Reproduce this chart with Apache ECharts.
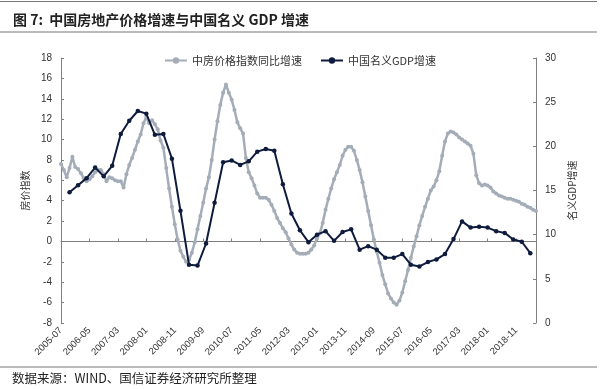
<!DOCTYPE html>
<html>
<head>
<meta charset="utf-8">
<script src="https://cdn.jsdelivr.net/npm/echarts@6/dist/echarts.min.js"></script>
<style>
html,body{margin:0;padding:0;background:#fff;}
#chart{width:600px;height:389px;}
</style>
</head>
<body>
<div id="chart"></div>
<script>
// Monthly categories 2005-07 .. 2019-06
var startYear = 2005, startMonth = 7, monthCount = 168;
var months = [];
for (var n = 0; n < monthCount; n++) {
  var m = startMonth - 1 + n;
  var y = startYear + Math.floor(m / 12);
  var mm = (m % 12) + 1;
  months.push(y + '-' + (mm < 10 ? '0' + mm : mm));
}

// 中房价格指数同比增速 (monthly, left axis, %)
var housePrice = [
  7.6, 7.0, 6.3, 7.2, 8.3, 7.3, 7.1, 6.7, 6.2, 5.9,
  6.1, 6.4, 6.8, 7.0, 7.0, 6.6, 5.9, 6.3, 6.2, 6.0,
  5.9, 5.9, 5.3, 6.6, 7.5, 8.2, 9.0, 9.8, 10.5, 11.6,
  12.2, 11.6, 11.9, 11.5, 11.0, 9.9, 9.2, 7.2, 5.2, 3.4,
  1.7, 0.2, -0.9, -1.5, -2.0, -1.8, -1.1, -0.1, 1.2, 2.5,
  3.8, 5.2, 6.3, 8.0, 10.0, 11.8, 13.4, 14.6, 15.4, 14.6,
  13.9, 12.9, 11.7, 11.1, 10.6, 8.2, 6.8, 6.2, 5.5, 4.7,
  4.3, 4.3, 4.3, 4.1, 3.6, 3.0, 2.3, 1.8, 1.3, 0.9,
  0.3, -0.3, -0.8, -1.1, -1.2, -1.2, -1.2, -1.1, -0.8, -0.4,
  0.3, 0.8, 1.8, 3.1, 4.2, 5.2, 6.1, 6.8, 7.5, 8.4,
  9.0, 9.3, 9.3, 8.9, 8.0, 7.0, 5.8, 4.4, 3.0, 1.6,
  0.2, -1.0, -2.1, -3.3, -4.2, -5.1, -5.6, -6.0, -6.2, -5.8,
  -5.0, -3.9, -2.8, -1.6, -0.5, 0.5, 1.6, 2.5, 3.4, 4.2,
  5.0, 5.4, 6.0, 6.9, 8.4, 9.8, 10.6, 10.8, 10.7, 10.5,
  10.2, 10.0, 9.8, 9.6, 9.4, 8.6, 6.5, 5.7, 5.5, 5.6,
  5.5, 5.3, 4.9, 4.7, 4.5, 4.4, 4.3, 4.2, 4.2, 4.1,
  4.0, 3.9, 3.7, 3.6, 3.4, 3.3, 3.1, 3.0
];

// 中国名义GDP增速 (quarterly, right axis, %), placed every 3rd month from index 3
var gdpFirstIndex = 3, gdpStep = 3;
var nominalGdp = [
  14.8, 15.6, 16.4, 17.6, 16.6, 17.8, 21.4, 22.9, 24.0, 23.7,
  21.3, 21.4, 18.6, 12.7, 6.6, 6.5, 9.0, 13.6, 18.2, 18.4,
  17.9, 18.3, 19.4, 19.7, 19.5, 15.7, 12.4, 10.5, 9.15, 10.0,
  10.4, 9.3, 10.3, 10.6, 8.3, 8.7, 8.3, 7.4, 7.4, 7.8,
  6.6, 6.4, 6.9, 7.2, 7.8, 9.5, 11.5, 10.8, 10.9, 10.8,
  10.4, 10.2, 9.45, 9.2, 7.9
];

var gdpMonthly = [];
for (var i = 0; i < monthCount; i++) gdpMonthly.push(null);
for (var k = 0; k < nominalGdp.length; k++) gdpMonthly[gdpFirstIndex + k * gdpStep] = nominalGdp[k];

var seriesNames = ['中房价格指数同比增速', '中国名义GDP增速'];
var titleText = '图 7:  中国房地产价格增速与中国名义 GDP 增速';
var sourceText = '数据来源：WIND、国信证券经济研究所整理';

var greyColor = '#A4ADB7';
var navyColor = '#0E1B3C';
var cjk = '"Noto Sans CJK SC", "Liberation Sans", sans-serif';
var latin = '"Liberation Sans", Arial, sans-serif';

var chart = echarts.init(document.getElementById('chart'), null, {renderer: 'canvas'});
chart.setOption({
  animation: false,
  backgroundColor: '#fff',
  title: {
    text: titleText,
    left: 8, top: 8,
    textStyle: {fontFamily: cjk, fontSize: 14, fontWeight: 'bold', color: '#222'}
  },
  graphic: [
    {type: 'line', shape: {x1: 0, y1: 1.5, x2: 597, y2: 1.5}, style: {stroke: '#777', lineWidth: 1.2}},
    {type: 'line', shape: {x1: 0, y1: 32, x2: 597, y2: 32}, style: {stroke: '#777', lineWidth: 1.2}},
    {type: 'line', shape: {x1: 0, y1: 367, x2: 597, y2: 367}, style: {stroke: '#777', lineWidth: 1.2}},
    {type: 'text', left: 12, top: 372, style: {text: sourceText, fontFamily: cjk, fontSize: 12.5, fill: '#222'}}
  ],
  legend: {
    data: seriesNames,
    top: 50, left: 'center',
    itemWidth: 22, itemHeight: 8, itemGap: 18,
    textStyle: {fontFamily: cjk, fontSize: 11, color: '#333'}
  },
  grid: {left: 61, right: 64, top: 58, bottom: 66, containLabel: false},
  xAxis: [
    {
      type: 'category', data: months, boundaryGap: false, position: 'bottom',
      axisLine: {show: false, onZero: false},
      axisTick: {show: false},
      axisLabel: {rotate: 45, interval: 9, fontFamily: latin, fontSize: 9.5, color: '#333', margin: 6},
      splitLine: {show: false}
    },
    {
      type: 'category', data: months, boundaryGap: false, position: 'bottom',
      axisLine: {show: true, onZero: true, onZeroAxisIndex: 0, lineStyle: {color: '#808080', width: 1}},
      axisTick: {show: true, interval: 9, length: 3, inside: true, lineStyle: {color: '#808080'}},
      axisLabel: {show: false},
      splitLine: {show: false}
    }
  ],
  yAxis: [
    {
      type: 'value', min: -8, max: 18, interval: 2, position: 'left',
      name: '房价指数', nameLocation: 'middle', nameRotate: 90, nameGap: 28,
      nameTextStyle: {fontFamily: cjk, fontSize: 10, color: '#333'},
      axisLine: {show: true, onZero: false, lineStyle: {color: '#808080'}},
      axisTick: {show: true, inside: true, length: 3, lineStyle: {color: '#808080'}},
      axisLabel: {fontFamily: latin, fontSize: 10, color: '#333', margin: 9},
      splitLine: {show: false}
    },
    {
      type: 'value', min: 0, max: 30, interval: 5, position: 'right',
      name: '名义GDP增速', nameLocation: 'middle', nameRotate: 90, nameGap: 31,
      nameTextStyle: {fontFamily: cjk, fontSize: 10, color: '#333'},
      axisLine: {show: true, onZero: false, lineStyle: {color: '#808080'}},
      axisTick: {show: true, inside: true, length: 3, lineStyle: {color: '#808080'}},
      axisLabel: {fontFamily: latin, fontSize: 10, color: '#333', margin: 9},
      splitLine: {show: false}
    }
  ],
  series: [
    {
      name: seriesNames[0], type: 'line', xAxisIndex: 0, yAxisIndex: 0,
      data: housePrice,
      symbol: 'circle', symbolSize: 4, showSymbol: true, showAllSymbol: true,
      lineStyle: {color: greyColor, width: 2.5},
      itemStyle: {color: greyColor},
      z: 2
    },
    {
      name: seriesNames[1], type: 'line', xAxisIndex: 0, yAxisIndex: 1,
      data: gdpMonthly, connectNulls: true,
      symbol: 'circle', symbolSize: 4.5, showSymbol: true, showAllSymbol: true,
      lineStyle: {color: navyColor, width: 2},
      itemStyle: {color: navyColor},
      z: 3
    }
  ]
});
</script>
</body>
</html>
